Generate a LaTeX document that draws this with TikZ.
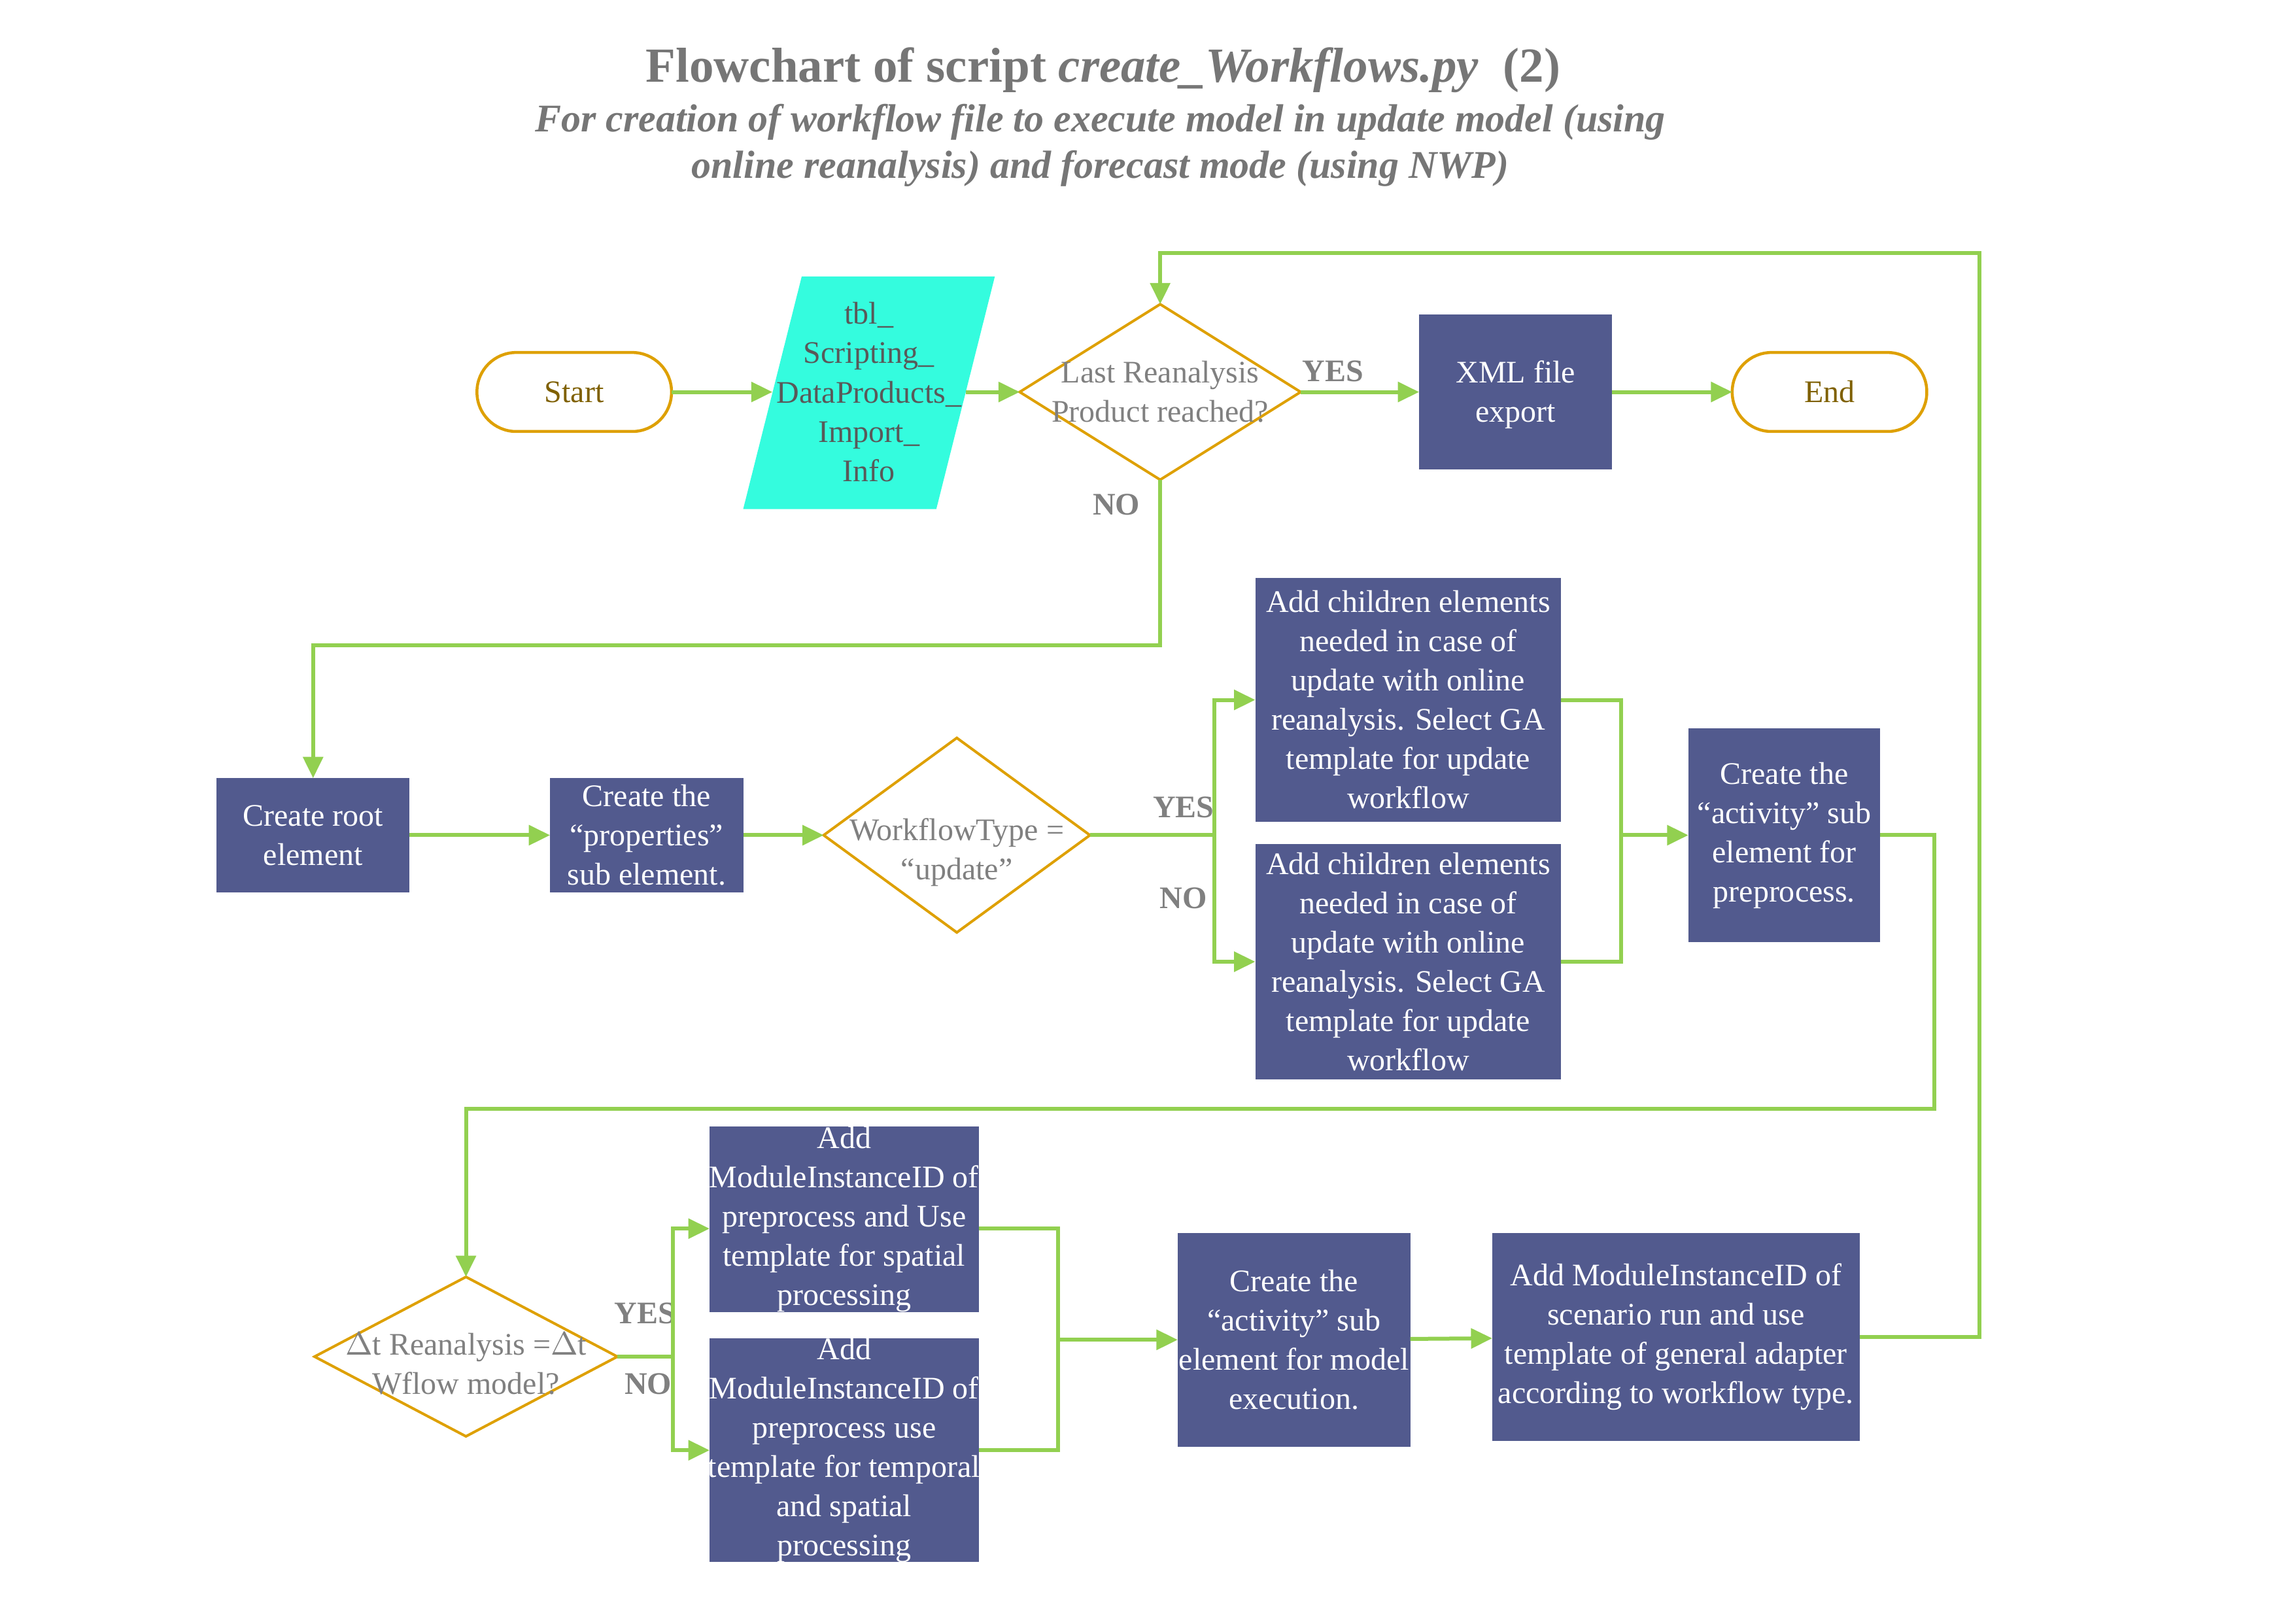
\documentclass[tikz,border=0pt]{standalone}
\usepackage{fontspec}
\setmainfont{Liberation Serif}
\usetikzlibrary{shapes.geometric,arrows.meta}
\definecolor{boxblue}{RGB}{82,90,142}
\definecolor{lgreen}{RGB}{146,208,80}
\definecolor{gold}{RGB}{222,160,0}
\definecolor{olive}{RGB}{127,96,0}
\definecolor{cyanf}{RGB}{52,252,222}
\definecolor{txtgray}{RGB}{128,128,128}
\definecolor{ttlgray}{RGB}{118,118,118}
\definecolor{paratxt}{RGB}{89,89,89}
\def\u{0.4474pt}
\begin{document}
\begin{tikzpicture}[x=0.4474pt,y=-0.4474pt,
  base/.style={font=\fontsize{9.6}{12}\selectfont, inner sep=0pt, outer sep=0pt},
  proc/.style={base, rectangle, fill=boxblue, draw=none},
  ptxt/.style={base, text=white, align=center},
  term/.style={base, rectangle, draw=gold, line width=0.9pt, text=olive, minimum width=133*\u, minimum height=54*\u, rounded corners=12pt},
  dec/.style={base, diamond, draw=gold, line width=0.8pt},
  dtxt/.style={base, text=txtgray, align=center},
  yn/.style={base, font=\fontsize{9.6}{12}\selectfont\bfseries, text=txtgray},
  arr/.style={draw=lgreen, line width=1.2pt, -{Triangle[length=6.5pt,width=6pt]}},
  ln/.style={draw=lgreen, line width=1.2pt}]
\fill[white] (0,0) rectangle (1568,1110);
\useasboundingbox (0,0) rectangle (1568,1110);

% titles
\node[base, anchor=base, font=\fontsize{15}{18}\selectfont\bfseries, text=ttlgray] (title) at (754,56) {Flowchart of script \textit{create\_Workflows.py}\ \ (2)};
\node[base, anchor=base, font=\fontsize{12}{14.3}\selectfont\bfseries\itshape, text=ttlgray] (sub1) at (752,90) {For creation of workflow file to execute model in update model (using};
\node[base, anchor=base, font=\fontsize{12}{14.3}\selectfont\bfseries\itshape, text=ttlgray] (sub2) at (752,122) {online reanalysis) and forecast mode (using NWP)};

% row 1
\node[term] (start) at (392.5,268) {Start};
\fill[cyanf] (548,189) -- (680,189) -- (640,348) -- (508,348) -- cycle;
\node[base, minimum width=132*\u, minimum height=159*\u, text=paratxt, align=center] (para) at (594,268) {tbl\_\\Scripting\_\\DataProducts\_\\Import\_\\Info};
\node[dec, minimum width=192*\u, minimum height=120*\u, label={[dtxt]center:{Last Reanalysis\\Product reached?}}] (d1) at (793,268) {};
\node[proc, minimum width=132*\u, minimum height=106*\u, label={[ptxt, yshift=-0.8pt]center:{XML file\\export}}] (xml) at (1036,268) {};
\node[term] (stop) at (1250.5,268) {End};

% row 2
\node[proc, minimum width=132*\u, minimum height=78*\u, label={[ptxt]center:{Create root\\element}}] (root) at (214,571) {};
\node[proc, minimum width=132*\u, minimum height=78*\u, label={[ptxt]center:{Create the\\“properties”\\sub element.}}] (prop) at (442,571) {};
\node[dec, minimum width=182*\u, minimum height=133*\u, label={[dtxt, yshift=-5.2pt]center:{WorkflowType =\\“update”}}] (d2) at (654,571) {};
\node[proc, minimum width=209*\u, minimum height=167*\u, label={[ptxt]center:{Add children elements\\needed in case of\\update with online\\reanalysis. Select GA\\template for update\\workflow}}] (boxA) at (962.5,478.5) {};
\node[proc, minimum width=209*\u, minimum height=161*\u, label={[ptxt]center:{Add children elements\\needed in case of\\update with online\\reanalysis. Select GA\\template for update\\workflow}}] (boxB) at (962.5,657.5) {};
\node[proc, minimum width=131*\u, minimum height=146*\u, label={[ptxt]center:{Create the\\“activity” sub\\element for\\preprocess.}}] (boxC) at (1219.5,571) {};

% row 3
\node[dec, minimum width=207*\u, minimum height=109*\u, label={[dtxt, yshift=-2.2pt]center:{\(\Delta\)t Reanalysis =\(\Delta\)t\\Wflow model?}}] (d3) at (318.5,927.5) {};
\node[proc, minimum width=184*\u, minimum height=127*\u, label={[ptxt]center:{Add\\ModuleInstanceID of\\preprocess and Use\\template for spatial\\processing}}] (boxD) at (577,833.5) {};
\node[proc, minimum width=184*\u, minimum height=153*\u, label={[ptxt]center:{Add\\ModuleInstanceID of\\preprocess use\\template for temporal\\and spatial\\processing}}] (boxE) at (577,991.5) {};
\node[proc, minimum width=159*\u, minimum height=146*\u, label={[ptxt]center:{Create the\\“activity” sub\\element for model\\execution.}}] (boxF) at (884.5,916) {};
\node[proc, minimum width=251*\u, minimum height=142*\u, label={[ptxt]center:{Add ModuleInstanceID of\\scenario run and use\\template of general adapter\\according to workflow type.}}] (boxG) at (1145.5,914) {};

% labels
\node[yn] (yes1) at (911,254) {YES};
\node[yn] (no1) at (763,345) {NO};
\node[yn] (yes2) at (809,552) {YES};
\node[yn] (no2) at (809,614) {NO};
\node[yn] (yes3) at (441,898) {YES};
\node[yn] (no3) at (443,946) {NO};

% connectors
\draw[arr] (start) -- (para);
\draw[arr] (para) -- (d1);
\draw[arr] (d1) -- (xml);
\draw[arr] (xml) -- (stop);
\draw[arr] (d1.south) -- ++(0,113) -| (root.north);
\draw[arr] (root) -- (prop);
\draw[arr] (prop) -- (d2);
\coordinate (s2) at (830,571);
\draw[ln] (d2.east) -- (s2);
\draw[arr] (s2) |- (boxA.west);
\draw[arr] (s2) |- (boxB.west);
\coordinate (j1) at (1108,571);
\draw[ln] (boxA.east) -| (j1);
\draw[ln] (boxB.east) -| (j1);
\draw[arr] (j1) -- (boxC.west);
\coordinate (c3) at (1322,758);
\draw[arr] (boxC.east) -| (c3) -| (d3.north);
\coordinate (s3) at (460,927.5);
\draw[ln] (d3.east) -- (s3);
\draw[arr] (s3) |- ([yshift=-2.9pt]boxD.west);
\draw[arr] (s3) |- (boxE.west);
\coordinate (j3) at (723,916);
\draw[ln] ([yshift=-2.9pt]boxD.east) -| (j3);
\draw[ln] (boxE.east) -| (j3);
\draw[arr] (j3) -- (boxF.west);
\draw[arr] (boxF) -- (boxG);
\coordinate (c4) at (1353,173);
\draw[arr] (boxG.east) -| (c4) -| (d1.north);
\end{tikzpicture}
\end{document}
